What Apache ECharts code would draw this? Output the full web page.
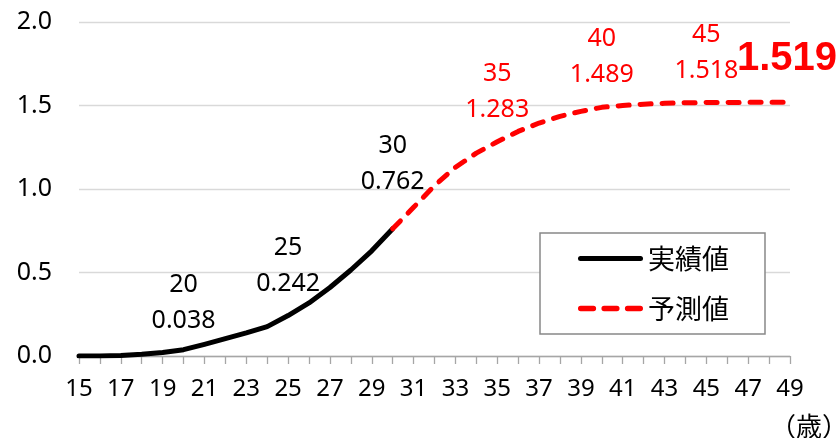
<!DOCTYPE html>
<html>
<head>
<meta charset="utf-8">
<script src="https://cdn.jsdelivr.net/npm/echarts@6/dist/echarts.min.js"></script>
<style>
  html, body { margin: 0; padding: 0; background: #fff; }
  #chart { width: 839px; height: 438px; }
</style>
</head>
<body>
<div id="chart"></div>
<script>
// Ages on the horizontal axis
const ages = ['15','16','17','18','19','20','21','22','23','24','25','26','27','28','29','30','31','32',
  '33','34','35','36','37','38','39','40','41','42','43','44','45','46','47','48','49'];

// 実績値: ages 15–30
const actualValues = [0.000, 0.000, 0.003, 0.010, 0.021, 0.038, 0.070, 0.104, 0.138, 0.176,
  0.242, 0.318, 0.410, 0.515, 0.630, 0.762];

// 予測値: ages 30–49
const forecastValues = [0.762, 0.890, 1.020, 1.130, 1.215, 1.283, 1.345, 1.395, 1.435, 1.465,
  1.489, 1.500, 1.508, 1.513, 1.516, 1.518, 1.518, 1.519, 1.519, 1.519];

// Ages whose value is written next to the curve
const actualLabelAges = ['20', '25', '30'];
const forecastLabelAges = ['35', '40', '45'];
const finalAge = '49';

const yTicks = ['0.0', '0.5', '1.0', '1.5', '2.0'];

const baseFont = 'Noto Sans, sans-serif';

// Legend keys: a solid bar and three rounded dashes
const solidKey = 'path://M2.5,0h60a2.5,2.5 0 0 1 0,5h-60a2.5,2.5 0 0 1 0,-5z';
const dashedKey = 'path://M2.5,0h12a2.5,2.5 0 0 1 0,5h-12a2.5,2.5 0 0 1 0,-5z' +
  'M24.5,0h12a2.5,2.5 0 0 1 0,5h-12a2.5,2.5 0 0 1 0,-5z' +
  'M46.5,0h12a2.5,2.5 0 0 1 0,5h-12a2.5,2.5 0 0 1 0,-5z';

function buildSeriesData(values, startAge, labelAges, color) {
  const start = ages.indexOf(startAge);
  return ages.map((age, i) => {
    if (i < start || i - start >= values.length) return '-';
    const v = values[i - start];
    if (labelAges.includes(age)) {
      return {
        value: v,
        symbol: 'circle',
        symbolSize: 0,
        label: {
          show: true,
          position: 'top',
          distance: age === '30' ? 29 : (age === '20' ? 11 : 14),
          color: color,
          fontFamily: baseFont,
          fontSize: 25,
          lineHeight: 36,
          formatter: p => age + '\n' + Number(p.value).toFixed(3)
        }
      };
    }
    if (age === finalAge && color === '#ff0000') {
      return {
        value: v,
        symbol: 'circle',
        symbolSize: 0,
        label: {
          show: true,
          position: 'top',
          distance: 23,
          offset: [-3, 0],
          color: color,
          fontFamily: 'Liberation Sans, Arial, sans-serif',
          fontWeight: 'bold',
          fontSize: 40,
          formatter: p => Number(p.value).toFixed(3)
        }
      };
    }
    return v;
  });
}

const chart = echarts.init(document.getElementById('chart'), null, { renderer: 'canvas' });

chart.setOption({
  animation: false,
  backgroundColor: '#ffffff',
  grid: { left: 79, right: 49, top: 22, bottom: 82, containLabel: false },
  xAxis: {
    type: 'category',
    data: ages,
    boundaryGap: false,
    axisLine: { show: true, lineStyle: { color: '#a6a6a6', width: 1.3 } },
    axisTick: { show: true, interval: 0, length: 8, lineStyle: { color: '#a6a6a6', width: 1.3 } },
    axisLabel: {
      interval: 1,
      margin: 21,
      color: '#000',
      fontFamily: baseFont,
      fontSize: 24
    },
    splitLine: { show: false }
  },
  yAxis: {
    type: 'value',
    min: 0,
    max: 2,
    interval: 0.5,
    axisLine: { show: false },
    axisTick: { show: false },
    axisLabel: {
      margin: 27,
      color: '#000',
      fontFamily: baseFont,
      fontSize: 25,
      formatter: v => yTicks[Math.round(v / 0.5)]
    },
    splitLine: { show: true, lineStyle: { color: '#d9d9d9', width: 1.3 } }
  },
  legend: {
    orient: 'vertical',
    left: 540,
    top: 233,
    padding: [12, 36, 12, 38],
    itemWidth: 65,
    itemHeight: 26,
    itemGap: 23,
    borderColor: '#888888',
    borderWidth: 1.5,
    backgroundColor: '#ffffff',
    textStyle: { fontFamily: 'Noto Sans CJK JP, sans-serif', fontSize: 27, color: '#000' },
    data: [
      { name: '実績値', icon: solidKey },
      { name: '予測値', icon: dashedKey }
    ]
  },
  series: [
    {
      name: '実績値',
      type: 'line',
      symbol: 'none',
      data: buildSeriesData(actualValues, '15', actualLabelAges, '#000000'),
      lineStyle: { color: '#000000', width: 5, cap: 'round', join: 'round' },
      itemStyle: { color: '#000000' },
      z: 3
    },
    {
      name: '予測値',
      type: 'line',
      symbol: 'none',
      data: buildSeriesData(forecastValues, '30', forecastLabelAges, '#ff0000'),
      lineStyle: { color: '#ff0000', width: 5, type: [11, 11], cap: 'round', join: 'round' },
      itemStyle: { color: '#ff0000' },
      z: 4
    }
  ],
  graphic: [
    {
      type: 'text',
      left: 770,
      top: 413,
      style: {
        text: '（歳）',
        fill: '#000',
        font: '26px "Noto Sans CJK JP", sans-serif'
      }
    }
  ]
});
</script>
</body>
</html>
